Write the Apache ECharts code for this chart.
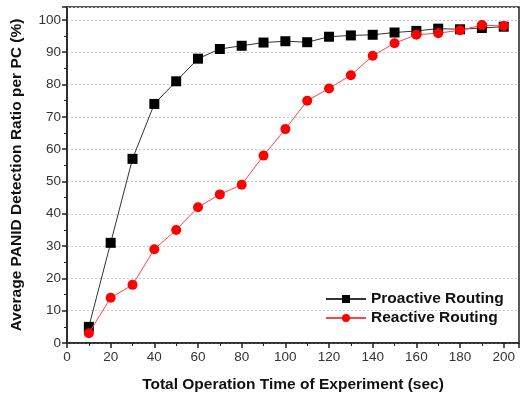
<!DOCTYPE html>
<html><head><meta charset="utf-8">
<script src="https://cdn.jsdelivr.net/npm/echarts@6/dist/echarts.min.js"></script>
<style>html,body{margin:0;padding:0;background:#fff}#c{width:522px;height:396px}</style>
</head><body><div id="c"></div>
<script>
const times = [10,20,30,40,50,60,70,80,90,100,110,120,130,140,150,160,170,180,190,200];
const proactive = [5,31,57,74,81,88,91,92,93,93.4,93.1,94.8,95.2,95.4,96.1,96.6,97.3,97.1,97.5,97.9];
const reactive = [3,14,18,29,35,42,46,49,58,66.2,75,78.8,82.9,88.9,92.8,95.4,95.9,96.8,98.4,98.1];
const xTitle = 'Total Operation Time of Experiment (sec)';
const yTitle = 'Average PANID Detection Ratio per PC (%)';
const F = 'Liberation Sans, Arial, sans-serif';
const chart = echarts.init(document.getElementById('c'));
const pair = a => times.map((t,i)=>[t,a[i]]);
chart.setOption({
  animation:false,
  grid:{left:67,right:3,top:7,bottom:53,show:true,borderColor:'#222',borderWidth:1.5,
        containLabel:false,outerBoundsMode:'none'},
  legend:{
    left:320, top:286, orient:'vertical', itemGap:3, itemWidth:40, itemHeight:10,
    textStyle:{fontFamily:F,fontWeight:'bold',fontSize:15.5,color:'#111'},
    data:['Proactive Routing','Reactive Routing']
  },
  xAxis:{
    type:'value', min:0, max:207, interval:20,
    name:xTitle, nameLocation:'middle', nameGap:34,
    nameTextStyle:{fontFamily:F,fontWeight:'bold',fontSize:15.5,color:'#111'},
    axisLine:{lineStyle:{color:'#222',width:1.5}},
    axisTick:{inside:false,length:5,lineStyle:{color:'#222',width:1.5}},
    minorTick:{show:true,splitNumber:2,length:3,lineStyle:{color:'#222'}},
    axisLabel:{fontFamily:F,fontSize:13.5,color:'#333',margin:7,
      formatter:v=>v%20===0?String(v):''},
    splitLine:{show:false}
  },
  yAxis:{
    type:'value', min:0, max:104, interval:10,
    name:yTitle, nameLocation:'middle', nameGap:42, nameRotate:90,
    nameTextStyle:{fontFamily:F,fontWeight:'bold',fontSize:15.5,color:'#111'},
    axisLine:{show:true,lineStyle:{color:'#222',width:1.5}},
    axisTick:{show:true,inside:false,length:5,lineStyle:{color:'#222',width:1.5}},
    minorTick:{show:true,splitNumber:2,length:3,lineStyle:{color:'#222'}},
    axisLabel:{fontFamily:F,fontSize:13.5,color:'#333',margin:6,
      formatter:v=>v%10===0&&v<=100?String(v):''},
    splitLine:{show:true,lineStyle:{color:'#ccc',type:[2,2],width:1}}
  },
  series:[
    {name:'Proactive Routing',type:'line',data:pair(proactive),symbol:'rect',symbolSize:10,
     lineStyle:{color:'#333',width:1},itemStyle:{color:'#000'},z:3},
    {name:'Reactive Routing',type:'line',data:pair(reactive),symbol:'circle',symbolSize:10,
     lineStyle:{color:'#f44',width:1},itemStyle:{color:'#ff0000'},z:4}
  ]
});
</script></body></html>
